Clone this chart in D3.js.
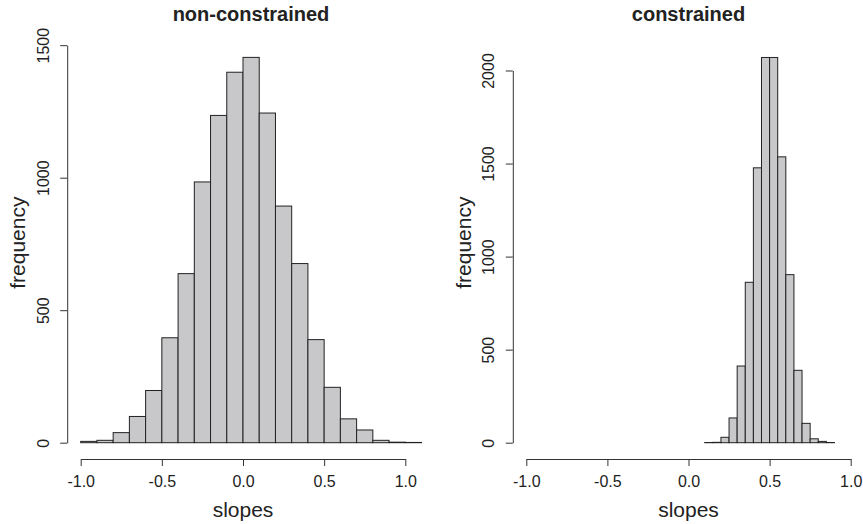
<!DOCTYPE html>
<html>
<head>
<meta charset="utf-8">
<script src="https://cdn.jsdelivr.net/npm/d3@7"></script>
<style>
  body { margin: 0; background: #fff; }
  svg text { font-family: "Liberation Sans", Arial, Helvetica, sans-serif; fill: #222; }
</style>
</head>
<body>
<svg id="chart"></svg>
<script>
// histogram bins (left edge of each bin) and counts
var freeStarts = [-1.0, -0.9, -0.8, -0.7, -0.6, -0.5, -0.4, -0.3, -0.2, -0.1,
  0.0, 0.1, 0.2, 0.3, 0.4, 0.5, 0.6, 0.7, 0.8, 0.9, 1.0];
var freeCounts = [5, 9, 38, 99, 197, 396, 638, 984, 1235, 1398,
  1454, 1244, 893, 676, 389, 209, 90, 48, 9, 2, 1];
var freeWidth = 0.1;

var consStarts = [0.10, 0.15, 0.20, 0.25, 0.30, 0.35, 0.40, 0.45,
  0.50, 0.55, 0.60, 0.65, 0.70, 0.75, 0.80, 0.85];
var consCounts = [1, 2, 29, 133, 412, 862, 1477, 2070,
  2070, 1536, 903, 389, 104, 21, 7, 1];
var consWidth = 0.05;

var xTicks = [-1.0, -0.5, 0.0, 0.5, 1.0];
var freeYTicks = [0, 500, 1000, 1500];
var consYTicks = [0, 500, 1000, 1500, 2000];

var svg = d3.select('#chart').attr('width', 863).attr('height', 524);

var panels = [
  { title: 'non-constrained', starts: freeStarts, counts: freeCounts, bw: freeWidth,
    yTicks: freeYTicks, yMax: 1500, xr: [80.7, 405.3], yr: [442.7, 45.2], titleX: 251, labY: 1000 },
  { title: 'constrained', starts: consStarts, counts: consCounts, bw: consWidth,
    yTicks: consYTicks, yMax: 2000, xr: [526.3, 850.7], yr: [442.7, 70.5], titleX: 688.5, labY: 1000 }
];

panels.forEach(function(p) {
  var x = d3.scaleLinear().domain([-1, 1]).range(p.xr);
  var y = d3.scaleLinear().domain([0, p.yMax]).range(p.yr);
  var g = svg.append('g');

  // bars
  g.selectAll('rect')
    .data(p.counts)
    .enter()
    .append('rect')
    .attr('x', function(d, i) { return x(p.starts[i]); })
    .attr('width', function(d, i) { return x(p.starts[i] + p.bw) - x(p.starts[i]); })
    .attr('y', function(d) { return y(d); })
    .attr('height', function(d) { return y(0) - y(d); })
    .attr('fill', '#c8c8ca')
    .attr('stroke', '#222')
    .attr('stroke-width', 1);

  // x axis, sits a bit below the bars like R
  var xa = g.append('g')
    .attr('transform', 'translate(0,459)')
    .call(d3.axisBottom(x).tickValues(xTicks).tickSizeOuter(0).tickSizeInner(7)
      .tickPadding(10));
  xa.selectAll('text').attr('font-size', 16).attr('fill', '#222')
    .text(function(d) { return d3.format('.1f')(d).replace('−', '-'); });

  var xLeft = p.xr[0] - 13.5;
  var ya = g.append('g')
    .attr('transform', 'translate(' + xLeft + ',0)')
    .call(d3.axisLeft(y).tickValues(p.yTicks).tickSizeOuter(0).tickSizeInner(7)
      .tickFormat(d3.format('d')));
  ya.selectAll('.tick text')
    .attr('font-size', 16).attr('fill', '#222')
    .attr('x', 0).attr('dy', 0)
    .attr('text-anchor', 'middle')
    .attr('transform', 'translate(-18.5,0) rotate(-90)');

  svg.selectAll('.domain, .tick line').attr('stroke', '#333');

  // labels
  g.append('text')
    .attr('x', p.titleX).attr('y', 21)
    .attr('text-anchor', 'middle')
    .attr('font-size', 20).attr('font-weight', 'bold')
    .text(p.title);

  g.append('text')
    .attr('x', (x(-1) + x(1)) / 2).attr('y', 517)
    .attr('text-anchor', 'middle')
    .attr('font-size', 21)
    .text('slopes');

  g.append('text')
    .attr('transform', 'translate(' + (xLeft - 42) + ',' + (p.yr[0] + p.yr[1] * 0 - 200) + ') rotate(-90)')
    .attr('text-anchor', 'middle')
    .attr('font-size', 21)
    .text('frequency');
});
</script>
</body>
</html>
